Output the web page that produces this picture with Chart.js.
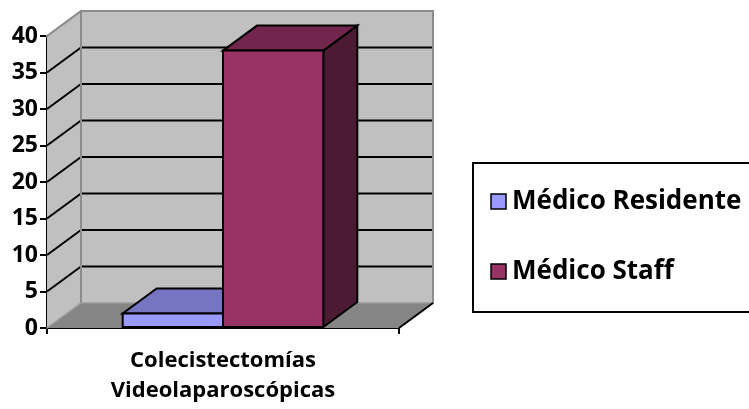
<!DOCTYPE html>
<html>
<head>
<meta charset="utf-8">
<script src="https://cdn.jsdelivr.net/npm/chart.js@4/dist/chart.umd.min.js"></script>
<style>
  html, body { margin: 0; padding: 0; background: #ffffff; }
  #wrap { width: 749px; height: 409px; }
</style>
</head>
<body>
<div id="wrap"><canvas id="c" width="749" height="409"></canvas></div>
<script>
// Data
const categories = [['Colecistectomías', 'Videolaparoscópicas']];
const seriesNames = ['Médico Residente', 'Médico Staff'];
const residenteValues = [2];
const staffValues = [38];
const yTickValues = [0, 5, 10, 15, 20, 25, 30, 35, 40];

// Styling
const FONT = '"Open Sans", "DejaVu Sans", sans-serif';
const DEPTH_X = 34;   // oblique depth offset of the 3D box
const DEPTH_Y = -25;
const faceColors = ['#9999FF', '#993366'];
const topColors  = ['#7575C2', '#73264D'];
const sideColors = ['#5A5A99', '#4D1A33'];

function poly(ctx, pts, fill, stroke, lw) {
  ctx.beginPath();
  ctx.moveTo(pts[0][0], pts[0][1]);
  for (let i = 1; i < pts.length; i++) ctx.lineTo(pts[i][0], pts[i][1]);
  ctx.closePath();
  if (fill) { ctx.fillStyle = fill; ctx.fill(); }
  if (stroke) { ctx.strokeStyle = stroke; ctx.lineWidth = lw; ctx.lineJoin = 'miter'; ctx.stroke(); }
}
function line(ctx, x1, y1, x2, y2, color, lw) {
  ctx.beginPath();
  ctx.moveTo(x1, y1); ctx.lineTo(x2, y2);
  ctx.strokeStyle = color; ctx.lineWidth = lw; ctx.stroke();
}

// Walls, floor, gridlines and 3D columns
const box3d = {
  id: 'box3d',
  beforeDatasetsDraw(chart) {
    const ctx = chart.ctx;
    const ys = chart.scales.y;
    const a = chart.chartArea;
    const L = a.left, R = a.right;
    const y0 = ys.getPixelForValue(ys.min), yTop = ys.getPixelForValue(ys.max);
    const dx = DEPTH_X, dy = DEPTH_Y;
    ctx.save();
    // back wall
    poly(ctx, [[L + dx, yTop + dy], [R + dx, yTop + dy], [R + dx, y0 + dy], [L + dx, y0 + dy]], '#C0C0C0', null);
    // side wall
    poly(ctx, [[L, yTop], [L + dx, yTop + dy], [L + dx, y0 + dy], [L, y0]], '#C0C0C0', null);
    // floor
    poly(ctx, [[L, y0], [R, y0], [R + dx, y0 + dy], [L + dx, y0 + dy]], '#858585', null);
    // gridlines
    yTickValues.forEach(v => {
      if (v === ys.min || v === ys.max) return;
      const yv = ys.getPixelForValue(v);
      line(ctx, L + dx, yv + dy, R + dx, yv + dy, '#000000', 2);
      line(ctx, L, yv, L + dx, yv + dy, '#000000', 2);
    });
    // wall edges
    ctx.lineCap = 'square';
    line(ctx, L, yTop, L + dx, yTop + dy, '#8C8C8C', 2);
    line(ctx, L + dx, yTop + dy, R + dx, yTop + dy, '#8C8C8C', 2);
    line(ctx, R + dx, yTop + dy, R + dx, y0 + dy, '#8C8C8C', 2);
    line(ctx, L + dx, yTop + dy, L + dx, y0 + dy, '#8C8C8C', 2);
    line(ctx, L + dx, y0 + dy, R + dx, y0 + dy, '#9A9A9A', 1.5);
    line(ctx, L, y0, L + dx, y0 + dy, '#9A9A9A', 1.5);
    ctx.lineCap = 'butt';
    line(ctx, R, y0, R + dx, y0 + dy, '#000000', 2);

    // columns, in dataset order
    chart.data.datasets.forEach((ds, di) => {
      const meta = chart.getDatasetMeta(di);
      meta.data.forEach(el => {
        const p = el.getProps(['x', 'y', 'base', 'width'], true);
        const l = p.x - p.width / 2, r = p.x + p.width / 2;
        const t = p.y, b = p.base;
        poly(ctx, [[r, t], [r + dx, t + dy], [r + dx, b + dy], [r, b]], sideColors[di], '#000000', 2);
        poly(ctx, [[l, t], [r, t], [r + dx, t + dy], [l + dx, t + dy]], topColors[di], '#000000', 2);
        poly(ctx, [[l, t], [r, t], [r, b], [l, b]], faceColors[di], '#000000', 2);
      });
    });
    ctx.restore();
    return false;
  }
};

// Boxed legend on the right
const boxLegend = {
  id: 'boxLegend',
  afterDraw(chart) {
    const ctx = chart.ctx;
    ctx.save();
    ctx.strokeStyle = '#000000';
    ctx.lineWidth = 2;
    ctx.strokeRect(473, 163, 300, 149);
    const rows = [202, 272];
    chart.data.datasets.forEach((ds, i) => {
      const cy = rows[i];
      ctx.fillStyle = faceColors[i];
      ctx.fillRect(491, cy - 8, 15, 15);
      ctx.lineWidth = 1.5;
      ctx.strokeRect(491, cy - 8, 15, 15);
      ctx.fillStyle = '#000000';
      ctx.font = 'bold 26px ' + FONT;
      ctx.textBaseline = 'middle';
      ctx.textAlign = 'left';
      ctx.fillText(ds.label, 512, cy);
    });
    ctx.restore();
  }
};

new Chart(document.getElementById('c'), {
  type: 'bar',
  data: {
    labels: categories,
    datasets: [
      { label: seriesNames[0], data: residenteValues, backgroundColor: faceColors[0] },
      { label: seriesNames[1], data: staffValues, backgroundColor: faceColors[1] }
    ]
  },
  options: {
    responsive: false,
    animation: false,
    events: [],
    layout: { padding: { left: 0, top: 36, right: 350, bottom: 0 } },
    categoryPercentage: 0.57,
    barPercentage: 1.0,
    plugins: { legend: { display: false }, tooltip: { enabled: false } },
    scales: {
      x: {
        z: 1,
        afterFit(s) { s.height = 81; },
        grid: { drawOnChartArea: false, drawTicks: true, tickLength: 6, color: '#000000', lineWidth: 2 },
        border: { display: true, color: '#000000', width: 2 },
        ticks: {
          color: '#000000', padding: 12,
          font: { family: FONT, size: 22, weight: 'bold', lineHeight: 1.35 },
          maxRotation: 0
        }
      },
      y: {
        z: 1,
        min: yTickValues[0],
        max: yTickValues[yTickValues.length - 1],
        afterFit(s) { s.width = 47; },
        afterBuildTicks(s) { s.ticks = yTickValues.map(v => ({ value: v })); },
        grid: { drawOnChartArea: false, drawTicks: true, tickLength: 7, color: '#000000', lineWidth: 2 },
        border: { display: true, color: '#000000', width: 2 },
        ticks: {
          color: '#000000', padding: 2,
          font: { family: FONT, size: 23, weight: 'bold' }
        }
      }
    }
  },
  plugins: [box3d, boxLegend]
});
</script>
</body>
</html>
